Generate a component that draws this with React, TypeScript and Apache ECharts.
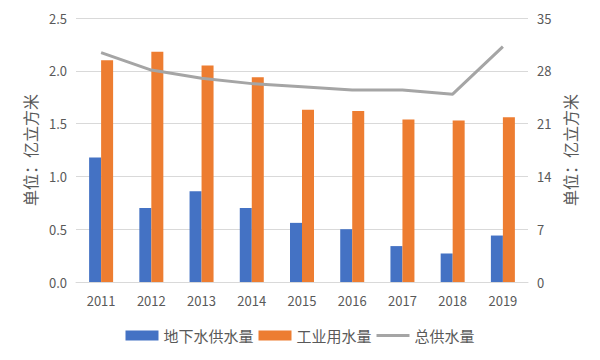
import React, { useEffect, useRef } from "react";
import * as echarts from "echarts";

const years = ["2011", "2012", "2013", "2014", "2015", "2016", "2017", "2018", "2019"];
const groundwater = [1.18, 0.7, 0.86, 0.7, 0.56, 0.5, 0.34, 0.27, 0.44];
const industrial = [2.1, 2.18, 2.05, 1.94, 1.63, 1.62, 1.54, 1.53, 1.56];
const totalSupply = [30.4, 28.1, 27.0, 26.3, 25.9, 25.45, 25.45, 24.9, 31.2];

const FONT = "'Noto Sans CJK SC', 'Noto Sans', sans-serif";
const TEXT = "#595959";

export default function App() {
  const ref = useRef<HTMLDivElement>(null);
  useEffect(() => {
    if (!ref.current) return;
    const chart = echarts.init(ref.current, undefined, { renderer: "svg" });
    chart.setOption({
      animation: false,
      textStyle: { fontFamily: FONT },
      grid: { left: 76, right: 72, top: 18, bottom: 78 },
      legend: {
        bottom: 12,
        left: "center",
        itemWidth: 33,
        itemHeight: 10,
        itemGap: 5,
        textStyle: { fontSize: 15, color: TEXT, fontFamily: FONT },
        data: [
          { name: "地下水供水量", icon: "rect" },
          { name: "工业用水量", icon: "rect" },
          { name: "总供水量", icon: "path://M0,0 L33,0 L33,3 L0,3 Z" },
        ],
      },
      xAxis: {
        type: "category",
        data: years,
        axisLine: { lineStyle: { color: "#D9D9D9" } },
        axisTick: { show: false },
        axisLabel: { color: TEXT, fontSize: 13, margin: 12, fontFamily: FONT },
      },
      yAxis: [
        {
          type: "value",
          min: 0,
          max: 2.5,
          interval: 0.5,
          name: "单位：亿立方米",
          nameLocation: "middle",
          nameRotate: 90,
          nameGap: 38,
          nameTextStyle: { color: TEXT, fontSize: 16, fontFamily: FONT },
          axisLabel: {
            color: TEXT,
            fontSize: 13,
            margin: 9,
            formatter: (v: number) => v.toFixed(1),
            fontFamily: FONT,
          },
          axisLine: { show: false },
          axisTick: { show: false },
          splitLine: { lineStyle: { color: "#D9D9D9" } },
        },
        {
          type: "value",
          min: 0,
          max: 35,
          interval: 7,
          name: "单位：亿立方米",
          nameLocation: "middle",
          nameRotate: 90,
          nameGap: 34,
          nameTextStyle: { color: TEXT, fontSize: 16, fontFamily: FONT },
          axisLabel: { color: TEXT, fontSize: 13, margin: 9, fontFamily: FONT },
          axisLine: { show: false },
          axisTick: { show: false },
          splitLine: { show: false },
        },
      ],
      series: [
        {
          name: "地下水供水量",
          type: "bar",
          data: groundwater,
          barWidth: 12,
          barGap: "0%",
          itemStyle: { color: "#4472C4" },
        },
        {
          name: "工业用水量",
          type: "bar",
          data: industrial,
          barWidth: 12,
          barGap: "0%",
          itemStyle: { color: "#ED7D31" },
        },
        {
          name: "总供水量",
          type: "line",
          yAxisIndex: 1,
          data: totalSupply,
          symbol: "none",
          lineStyle: { color: "#A5A5A5", width: 3 },
          itemStyle: { color: "#A5A5A5" },
        },
      ],
    });
    return () => chart.dispose();
  }, []);
  return (
    <div
      ref={ref}
      style={{ position: "absolute", left: 0, top: 0, width: 600, height: 360, background: "#fff" }}
    />
  );
}
